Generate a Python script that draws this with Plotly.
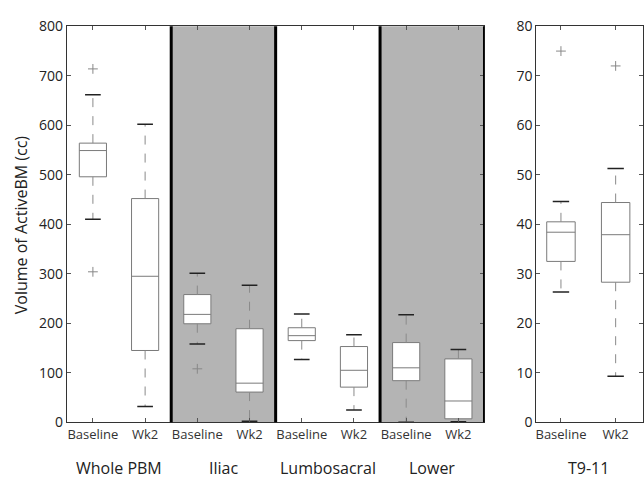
import plotly.graph_objects as go

# ---------------- data ----------------
groups = ["Whole PBM", "Iliac", "Lumbosacral", "Lower"]
timepoints = ["Baseline", "Wk2"]
shaded_groups = ["Iliac", "Lower"]

# left panel: order = group x timepoint
left_lower = [410, 32, 158, 2, 127, 25, 0, 1]
left_q1 = [496, 145, 199, 61, 165, 71, 84, 7]
left_median = [549, 295, 218, 79, 175, 105, 110, 43]
left_q3 = [564, 452, 258, 189, 191, 153, 161, 128]
left_upper = [662, 602, 301, 277, 219, 177, 217, 147]
left_outlier_idx = [0, 0, 2]
left_outlier_val = [714, 304, 108]

# right panel: T9-11
right_group = "T9-11"
right_lower = [26.3, 9.3]
right_q1 = [32.5, 28.3]
right_median = [38.4, 37.9]
right_q3 = [40.5, 44.4]
right_upper = [44.6, 51.3]
right_outlier_idx = [0, 1]
right_outlier_val = [75, 72]

left_yticks = [0, 100, 200, 300, 400, 500, 600, 700, 800]
right_yticks = [0, 10, 20, 30, 40, 50, 60, 70, 80]

# ---------------- style ----------------
FONT = "Open Sans"
BOX_LINE = "#7a7a7a"
WHISK = "#8a8a8a"
CAP = "#222222"
GREY = "#b4b4b4"
BOX_W = 0.52
CAP_HALF = 0.15

fig = go.Figure()


def add_panel(xa, ya, lows, q1s, meds, q3s, ups, oidx, ovals):
    pos = list(range(1, len(meds) + 1))
    fig.add_trace(go.Box(
        x=pos, q1=q1s, median=meds, q3=q3s, lowerfence=q1s, upperfence=q3s,
        width=BOX_W, fillcolor="white", line=dict(color=BOX_LINE, width=1),
        whiskerwidth=0, boxpoints=False, xaxis=xa, yaxis=ya, showlegend=False,
        hoverinfo="skip"))
    wx, wy, cx, cy = [], [], [], []
    for p, lo, a, b, hi in zip(pos, lows, q1s, q3s, ups):
        wx += [p, p, None, p, p, None]
        wy += [b, hi, None, a, lo, None]
        cx += [p - CAP_HALF, p + CAP_HALF, None, p - CAP_HALF, p + CAP_HALF, None]
        cy += [hi, hi, None, lo, lo, None]
    fig.add_trace(go.Scatter(x=wx, y=wy, mode="lines", xaxis=xa, yaxis=ya,
                             line=dict(color=WHISK, width=1, dash="dash"),
                             showlegend=False, hoverinfo="skip"))
    fig.add_trace(go.Scatter(x=cx, y=cy, mode="lines", xaxis=xa, yaxis=ya,
                             line=dict(color=CAP, width=1.5),
                             showlegend=False, hoverinfo="skip"))
    fig.add_trace(go.Scatter(x=[pos[i] for i in oidx], y=ovals, mode="markers",
                             xaxis=xa, yaxis=ya,
                             marker=dict(symbol="cross-thin-open", size=7,
                                         color="#888888",
                                         line=dict(color="#888888", width=1)),
                             showlegend=False, hoverinfo="skip"))


add_panel("x", "y", left_lower, left_q1, left_median, left_q3, left_upper,
          left_outlier_idx, left_outlier_val)
add_panel("x2", "y2", right_lower, right_q1, right_median, right_q3, right_upper,
          right_outlier_idx, right_outlier_val)

# shading and separators
shapes = []
for gi, g in enumerate(groups):
    x0 = 2 * gi + 0.5
    x1 = 2 * gi + 2.5
    if g in shaded_groups:
        shapes.append(dict(type="rect", xref="x", yref="y domain", x0=x0, x1=x1,
                           y0=0, y1=1, fillcolor=GREY, line=dict(width=0),
                           layer="below"))
for gi in range(1, len(groups) + 1):
    xs = 2 * gi + 0.5
    shapes.append(dict(type="line", xref="x", yref="y domain", x0=xs, x1=xs,
                       y0=0, y1=1, line=dict(color="black", width=3),
                       layer="above"))

ticktext_left = [t for _ in groups for t in timepoints]

W, H = 644, 487
top_px, bot_px = 17, 429

axis_common = dict(showline=True, linecolor="#333333", linewidth=1, mirror="ticks",
                   ticks="inside", ticklen=4, tickcolor="#555555",
                   showgrid=False, zeroline=False)

LABEL_Y = 1 - 477 / H
annotations = []
for gi, g in enumerate(groups):
    annotations.append(dict(text=g, x=2 * gi + 1.5, xref="x", y=LABEL_Y,
                            yref="paper", showarrow=False, yanchor="middle",
                            xanchor="center",
                            font=dict(family=FONT, size=16, color="#222222")))
annotations.append(dict(text=right_group, x=1.5, xref="x2", y=LABEL_Y,
                        yref="paper", showarrow=False, yanchor="middle",
                        xanchor="center",
                        font=dict(family=FONT, size=16, color="#222222")))
annotations.append(dict(text="Volume of ActiveBM (cc)", x=20 / W, xref="paper",
                        y=1 - 223 / H, yref="paper", showarrow=False,
                        textangle=-90, xanchor="center", yanchor="middle",
                        font=dict(family=FONT, size=16, color="#222222")))

fig.update_layout(
    width=W, height=H,
    margin=dict(l=0, r=0, t=0, b=0, pad=0),
    paper_bgcolor="white", plot_bgcolor="white",
    shapes=shapes, annotations=annotations,
    xaxis=dict(domain=[66 / W, 485 / W], range=[0.5, 8.5],
               tickvals=list(range(1, 9)), ticktext=ticktext_left,
               tickfont=dict(family=FONT, size=13, color="#333333"),
               **axis_common),
    yaxis=dict(domain=[1 - bot_px / H, 1 - top_px / H], range=[0, 800],
               tickvals=left_yticks,
               tickfont=dict(family=FONT, size=14, color="#222222"),
               **axis_common),
    xaxis2=dict(domain=[537 / W, 1.0], range=[0.55, 2.5], anchor="y2",
                tickvals=[1, 2], ticktext=timepoints,
                tickfont=dict(family=FONT, size=13, color="#333333"),
                **axis_common),
    yaxis2=dict(domain=[1 - bot_px / H, 1 - top_px / H], range=[0, 80],
                anchor="x2", tickvals=right_yticks,
                tickfont=dict(family=FONT, size=14, color="#222222"),
                **axis_common),
)

fig.write_html("out.html", config={"displayModeBar": False},
               post_script="document.body.style.margin='0';")
